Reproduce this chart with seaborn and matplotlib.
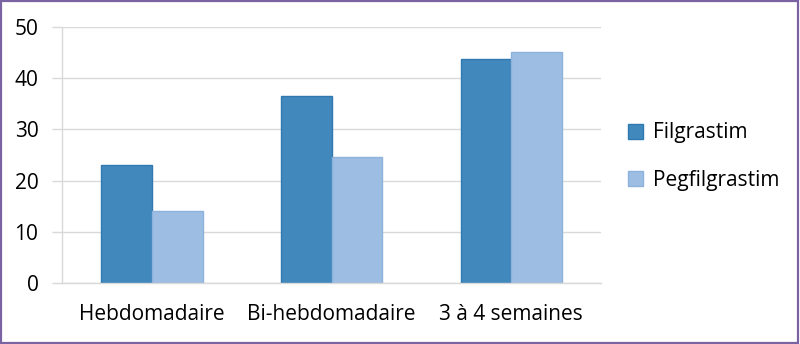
import matplotlib
matplotlib.use("Agg")
import matplotlib.pyplot as plt
import seaborn as sns
import pandas as pd
from matplotlib.patches import Rectangle, Patch

categories = ["Hebdomadaire", "Bi-hebdomadaire", "3 à 4 semaines"]
series = ["Filgrastim", "Pegfilgrastim"]
filgrastim = [23.0, 36.6, 43.8]
pegfilgrastim = [14.0, 24.6, 45.1]
yticks = [0, 10, 20, 30, 40, 50]
colors = ["#4189bd", "#9dbee2"]
edges = ["#2f78b0", "#8db2dc"]

df = pd.DataFrame({
    "cat": categories * 2,
    "serie": [series[0]] * 3 + [series[1]] * 3,
    "val": filgrastim + pegfilgrastim,
})

sns.set_style("white")
plt.rcParams["font.family"] = ["Open Sans", "DejaVu Sans"]
FS = 15

fig = plt.figure(figsize=(8, 3.44), dpi=100)
ax = fig.add_axes([0.0775, 0.177, 0.674, 0.7445])
sns.barplot(data=df, x="cat", y="val", hue="serie", palette=colors,
            width=0.565, ax=ax, legend=False, saturation=1)
for i, p in enumerate(ax.patches):
    p.set_edgecolor(edges[min(i // 3, 1)])
    p.set_linewidth(1)

ax.set_xlim(-0.5, 2.5)
ax.set_ylim(0, 50)
ax.set_yticks(yticks)
ax.set_yticklabels([str(t) for t in yticks], fontsize=FS, color="black")
ax.set_xlabel("")
ax.set_ylabel("")
ax.yaxis.grid(True, color="#d9d9d9", linewidth=1)
ax.set_axisbelow(True)
for s in ["top", "right"]:
    ax.spines[s].set_visible(False)
for s in ["left", "bottom"]:
    ax.spines[s].set_color("#d9d9d9")
    ax.spines[s].set_linewidth(1)
ax.set_xticks([0, 1, 2])
ax.set_xticklabels(categories, fontsize=FS, color="black")
ax.tick_params(axis="x", which="major", length=0, pad=15)
ax.set_xticks([-0.5, 0.5, 1.5, 2.5], minor=True)
ax.tick_params(axis="x", which="minor", length=7, color="#d9d9d9", width=1)
ax.tick_params(axis="y", length=7, color="#d9d9d9", width=1, pad=10, left=True)

handles = [Patch(facecolor=colors[i], edgecolor=edges[i], label=series[i]) for i in range(2)]
leg = fig.legend(handles=handles, loc="center left", bbox_to_anchor=(0.762, 0.545),
                 frameon=False, fontsize=FS, handlelength=0.72, handleheight=0.72,
                 labelspacing=1.25, handletextpad=0.45)
for t in leg.get_texts():
    t.set_color("black")

fig.patches.append(Rectangle((0.001, 0.002), 0.997, 0.995, transform=fig.transFigure,
                             fill=False, edgecolor="#7b62a3", linewidth=1.6))
fig.savefig("out.png", dpi=100, facecolor="white")
